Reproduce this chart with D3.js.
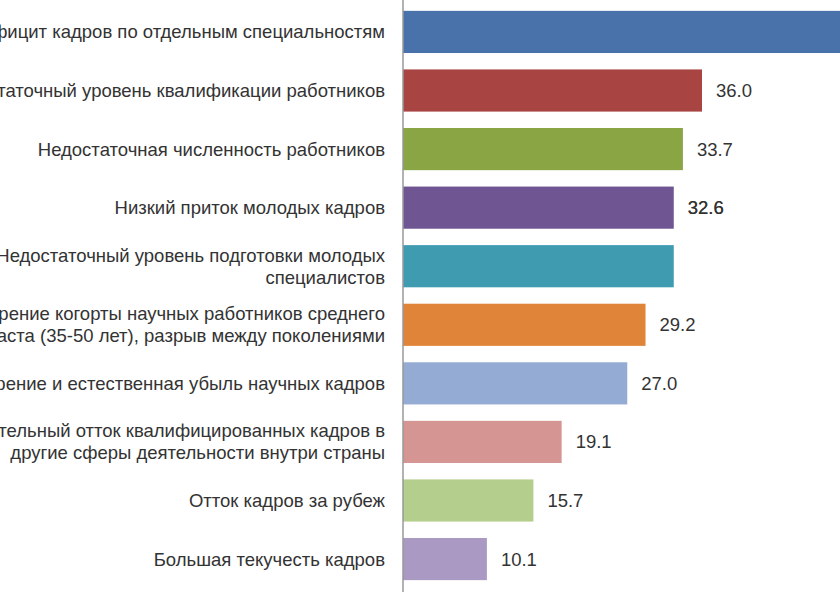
<!DOCTYPE html>
<html>
<head>
<meta charset="utf-8">
<script src="https://cdn.jsdelivr.net/npm/d3@7"></script>
<style>
  body { margin: 0; background: #fff; overflow: hidden; }
  text { font-family: "Liberation Sans", Arial, sans-serif; fill: #333; }
</style>
</head>
<body>
<div id="chart"></div>
<script>
const labels = [
  ["Дефицит кадров по отдельным специальностям"],
  ["Недостаточный уровень квалификации работников"],
  ["Недостаточная численность работников"],
  ["Низкий приток молодых кадров"],
  ["Недостаточный уровень подготовки молодых", "специалистов"],
  ["Старение когорты научных работников среднего", "возраста (35-50 лет), разрыв между поколениями"],
  ["Старение и естественная убыль научных кадров"],
  ["Значительный отток квалифицированных кадров в", "другие сферы деятельности внутри страны"],
  ["Отток кадров за рубеж"],
  ["Большая текучесть кадров"]
];
const values = [54.0, 36.0, 33.7, 32.6, 32.6, 29.2, 27.0, 19.1, 15.7, 10.1];
const colors = ["#4a72aa", "#a84441", "#89a544", "#6f5592", "#3e9bb0",
                "#e0843a", "#94acd4", "#d49593", "#b4ce8e", "#a999c3"];

const width = 840, height = 600;
const fontSize = 18.5;
const svg = d3.select("#chart").append("svg")
  .attr("width", width).attr("height", height);

const x = d3.scaleLinear().domain([0, 36]).range([403, 702]);
const y = d3.scaleBand().domain(d3.range(values.length))
  .range([5, 586]).paddingInner(0.28).paddingOuter(0.1);

// Bars
svg.selectAll("rect.bar")
  .data(values)
  .enter()
  .append("rect")
    .attr("class", "bar")
    .attr("x", x(0))
    .attr("y", (d, i) => y(i))
    .attr("width", d => x(d) - x(0))
    .attr("height", y.bandwidth())
    .attr("fill", (d, i) => colors[i]);

// Value labels (only the ones that fit in the visible area)
svg.selectAll("text.value")
  .data(values.filter(d => x(d) + 60 < width))
  .enter()
  .append("text")
    .attr("class", "value")
    .attr("x", d => x(d) + 14)
    .attr("y", d => y(values.indexOf(d)) + y.bandwidth() / 2)
    .attr("dy", "0.35em")
    .attr("font-size", fontSize)
    .text(d => d.toFixed(1));

// Category labels
const cats = svg.selectAll("text.cat")
  .data(labels)
  .enter()
  .append("text")
    .attr("class", "cat")
    .attr("text-anchor", "end")
    .attr("font-size", fontSize)
    .attr("y", (d, i) => y(i) + y.bandwidth() / 2);
cats.selectAll("tspan")
  .data(d => d.map((t, j) => ({ t, j, n: d.length })))
  .enter()
  .append("tspan")
    .attr("x", 385)
    .attr("dy", d => d.j === 0 ? (0.35 - (d.n - 1) * 0.6) + "em" : "1.2em")
    .text(d => d.t);

// Axis line
svg.append("line")
  .attr("x1", x(0)).attr("x2", x(0))
  .attr("y1", 0).attr("y2", 592)
  .attr("stroke", "#999").attr("stroke-width", 1.5);
</script>
</body>
</html>
